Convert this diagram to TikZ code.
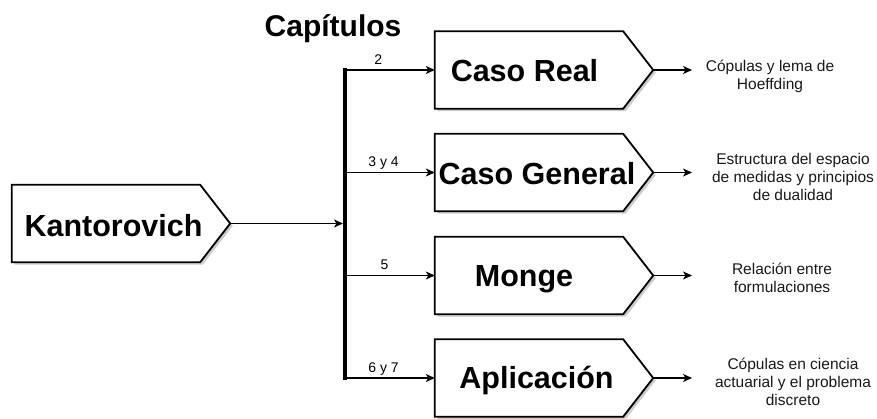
\documentclass[tikz,border=0pt]{standalone}
\usepackage{fontspec}
\setmainfont{Liberation Sans}
\usetikzlibrary{arrows.meta}

% Pentagon "arrow box": shadow, then white body with pointed right end.
% Defines the coordinate (<name> tip) at the point.
\newcommand\chapbox[1]{%
  \fill[boxshade] ([shift={(2.5,2.5)}]#1.north west) -- ([shift={(2.5,2.5)}]#1.north east)
    -- ([shift={(32.5,2.5)}]#1.east) -- ([shift={(2.5,2.5)}]#1.south east)
    -- ([shift={(2.5,2.5)}]#1.south west) -- cycle;
  \path[outline] (#1.north west) -- (#1.north east)
    -- ([xshift=30pt]#1.east) coordinate (#1 tip)
    -- (#1.south east) -- (#1.south west) -- cycle;}

\begin{document}
\begin{tikzpicture}[x=1pt,y=-1pt,
  body/.style={minimum width=188pt, minimum height=77pt, inner sep=0pt, draw=none},
  outline/.style={draw=black, line width=1.8pt, fill=white, line join=miter},
  boxshade/.style={fill=black!20, draw=none},
  title/.style={font=\fontsize{30.5}{36}\selectfont\bfseries, anchor=base, inner sep=0pt},
  link/.style={draw=black, line width=1.2pt, -{Stealth[length=9pt,width=8pt,inset=2.5pt]}},
  tag/.style={font=\fontsize{14}{16}\selectfont, anchor=base, inner sep=0pt, yshift=5.5pt},
  note/.style={font=\fontsize{15.5}{18}\selectfont, align=center, text=black!90, inner sep=0pt}
]
\useasboundingbox (0,0) rectangle (877,419);

% heading
\node[font=\fontsize{30}{34}\selectfont\bfseries, anchor=base, inner sep=0pt] (head) at (333,37) {Capítulos};

% box bodies
\node[body] (kant) at (106,223.5) {};
\node[body] (real) at (529,70) {};
\node[body] (gen)  at (529,172.5) {};
\node[body] (monge) at (529,275.5) {};
\node[body] (apl)  at (529,378) {};

\chapbox{kant}
\chapbox{real}
\chapbox{gen}
\chapbox{monge}
\chapbox{apl}

% box titles
\node[title] (kantT)  at (113.5,237) {Kantorovich};
\node[title] (realT)  at (524.5,82) {Caso Real};
\node[title] (genT)   at (537,185) {Caso General};
\node[title] (mongeT) at (524,287) {Monge};
\node[title] (aplT)   at (536.5,388) {Aplicación};

% distribution bar
\coordinate (bartop) at (345,68);
\coordinate (barbot) at (345,380);
\draw[line width=4pt] (bartop) -- (barbot);
\coordinate (hub) at (343,223.5);
\draw[link] (kant tip) -- (hub);

% branches to the chapters
\coordinate (b1) at (345,70);
\coordinate (b2) at (345,172.5);
\coordinate (b3) at (345,275.5);
\coordinate (b4) at (345,378);
\draw[link] (b1) -- node[tag, pos=0.37] {2} (real.west);
\draw[link] (b2) -- node[tag, pos=0.43] {3 y 4} (gen.west);
\draw[link] (b3) -- node[tag, pos=0.44] {5} (monge.west);
\draw[link] (b4) -- node[tag, pos=0.43] {6 y 7} (apl.west);

% outgoing arrows
\coordinate (o1) at (692,70);
\coordinate (o2) at (692,172.5);
\coordinate (o3) at (692,275.5);
\coordinate (o4) at (692,378);
\draw[link] (real tip) -- (o1);
\draw[link] (gen tip) -- (o2);
\draw[link] (monge tip) -- (o3);
\draw[link] (apl tip) -- (o4);

% descriptions
\node[note] (n1) at (770,76) {Cópulas y lema de\\Hoeffding};
\node[note] (n2) at (793,177) {Estructura del espacio\\de medidas y principios\\de dualidad};
\node[note] (n3) at (782,278) {Relación entre\\formulaciones};
\node[note] (n4) at (793,382) {Cópulas en ciencia\\actuarial y el problema\\discreto};
\end{tikzpicture}
\end{document}
